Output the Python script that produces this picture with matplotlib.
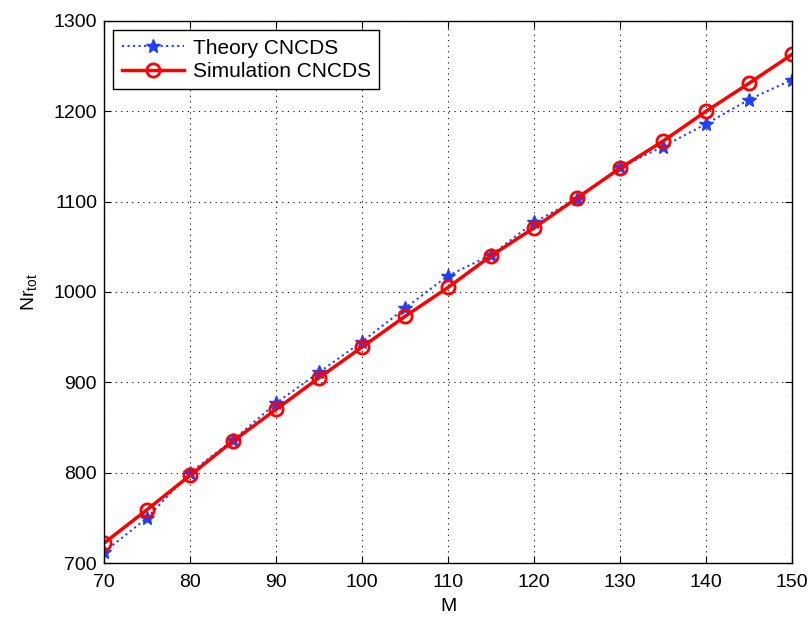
import matplotlib
matplotlib.use("Agg")
import matplotlib.pyplot as plt

M = [70, 75, 80, 85, 90, 95, 100, 105, 110, 115, 120, 125, 130, 135, 140, 145, 150]
theory = [712, 750, 800, 836, 877, 911, 945, 982, 1018, 1041, 1077, 1103, 1138, 1161, 1186, 1213, 1235]
simulation = [722, 759, 797, 835, 870, 905, 939, 973, 1005, 1040, 1071, 1104, 1137, 1167, 1200, 1231, 1263]
xticks = [70, 80, 90, 100, 110, 120, 130, 140, 150]
yticks = [700, 800, 900, 1000, 1100, 1200, 1300]

plt.rcParams['font.family'] = ['Liberation Sans', 'DejaVu Sans']
plt.rcParams['mathtext.default'] = 'regular'

fig = plt.figure(figsize=(8.10, 6.17), dpi=100)
ax = fig.add_axes([0.1284, 0.0875, 0.8494, 0.8785])

ax.plot(M, theory, linestyle=':', color='#2040ff', linewidth=1.5, marker='*',
        markersize=10, markeredgecolor='#2040ff', markerfacecolor='#2040ff',
        label='Theory CNCDS')
ax.plot(M, simulation, linestyle='-', color='#ff0000', linewidth=2.5, marker='o',
        markersize=9.5, markerfacecolor='none', markeredgewidth=2,
        label='Simulation CNCDS')

ax.set_xlim(70, 150)
ax.set_ylim(700, 1300)
ax.set_xticks(xticks)
ax.set_yticks(yticks)
ax.tick_params(direction='in', labelsize=14, length=5, top=True, right=True)
ax.tick_params(axis='x', pad=8)
ax.tick_params(axis='y', pad=5)
ax.grid(True, linestyle=(0, (1, 4)), color='black', linewidth=0.8)
for s in ax.spines.values():
    s.set_linewidth(1)
ax.set_xlabel('M', fontsize=14, labelpad=5)
ax.set_ylabel('Nr$_{tot}$', fontsize=14)
ax.yaxis.set_label_coords(-0.095, 0.5)

leg = ax.legend(loc='upper left', fontsize=15, fancybox=False, edgecolor='black',
                framealpha=1, borderaxespad=0.45, handlelength=3, borderpad=0.4,
                labelspacing=0.2, handletextpad=0.4)
leg.get_frame().set_linewidth(1)

fig.savefig('out.png', dpi=100)
